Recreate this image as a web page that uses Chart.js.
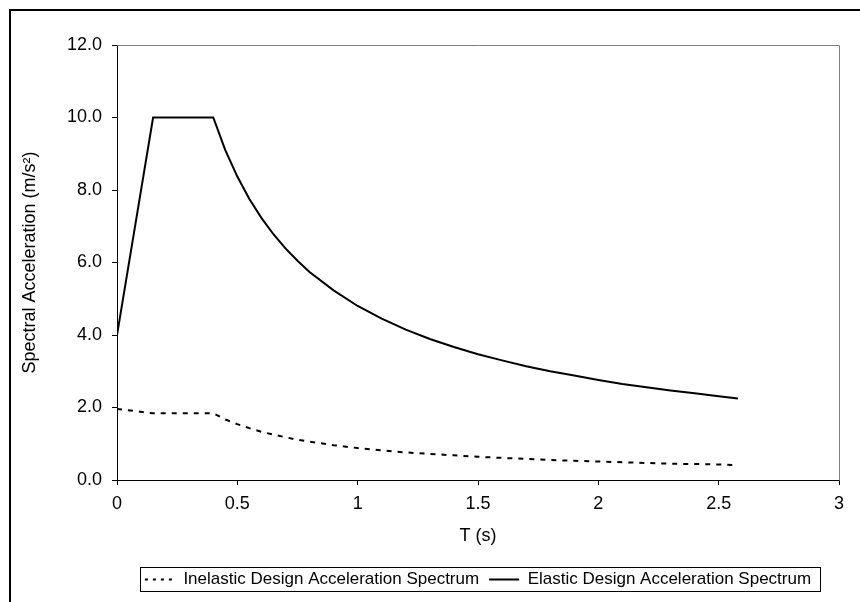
<!DOCTYPE html>
<html>
<head>
<meta charset="utf-8">
<script src="https://cdn.jsdelivr.net/npm/chart.js@4.4.1/dist/chart.umd.min.js"></script>
<style>
  html, body { margin: 0; padding: 0; background: #fff; }
  body { width: 860px; height: 602px; overflow: hidden; position: relative; }
  #frame { position: absolute; left: 9px; top: 9px; width: 900px; height: 700px; border: 2px solid #000; pointer-events: none; }
  #myChart { position: absolute; left: 0; top: 0; }
</style>
</head>
<body>
<canvas id="myChart" width="860" height="602"></canvas>
<div id="frame"></div>
<script>
// periods T (s)
var periods = [0, 0.15, 0.4, 0.45, 0.5, 0.55, 0.6, 0.65, 0.7, 0.75, 0.8, 0.9, 1.0, 1.1, 1.2, 1.3, 1.4, 1.5, 1.6, 1.7, 1.8, 1.9, 2.0, 2.1, 2.2, 2.3, 2.4, 2.5, 2.58];
// spectral acceleration (m/s2)
var elastic = [4.0, 10.0, 10.0, 9.10, 8.37, 7.75, 7.23, 6.78, 6.39, 6.05, 5.74, 5.23, 4.80, 4.45, 4.15, 3.89, 3.67, 3.47, 3.30, 3.14, 3.00, 2.88, 2.76, 2.65, 2.56, 2.47, 2.39, 2.31, 2.25];
var inelastic = [1.96, 1.84, 1.84, 1.67, 1.54, 1.43, 1.33, 1.25, 1.18, 1.11, 1.06, 0.96, 0.88, 0.82, 0.76, 0.72, 0.68, 0.64, 0.61, 0.58, 0.55, 0.53, 0.51, 0.49, 0.47, 0.45, 0.44, 0.43, 0.41];
var seriesNames = ['Inelastic Design Acceleration Spectrum', 'Elastic Design Acceleration Spectrum'];
var xTitle = 'T (s)';
var yTitle = 'Spectral Acceleration (m/s\u00B2)';

var font = '"Liberation Sans", Arial, sans-serif';

function toPoints(ys) {
    return periods.map(function(t, i) { return {x: t, y: ys[i]}; });
}

// gray plot border (top/right) and box around the legend
var boxPlugin = {
    id: 'boxes',
    afterDraw: function(chart) {
        var ctx = chart.ctx;
        var a = chart.chartArea;
        ctx.save();
        ctx.strokeStyle = '#808080';
        ctx.lineWidth = 1;
        ctx.beginPath();
        ctx.moveTo(Math.round(a.left) + 0.5, Math.round(a.top) + 0.5);
        ctx.lineTo(Math.round(a.right) + 0.5, Math.round(a.top) + 0.5);
        ctx.lineTo(Math.round(a.right) + 0.5, Math.round(a.bottom) + 0.5);
        ctx.stroke();

        var boxes = chart.legend.legendHitBoxes;
        if (boxes && boxes.length) {
            var l = Infinity, r = -Infinity, t = Infinity, b = -Infinity;
            boxes.forEach(function(h) {
                l = Math.min(l, h.left); r = Math.max(r, h.left + h.width);
                t = Math.min(t, h.top); b = Math.max(b, h.top + h.height);
            });
            ctx.strokeStyle = '#000';
            ctx.strokeRect(Math.round(l - 5) + 0.5, Math.round(t - 4) + 0.5, Math.round(r - l + 14), Math.round(b - t + 7));
        }
        ctx.restore();
    }
};

window.onload = function() {
    var ctx = document.getElementById('myChart').getContext('2d');
    new Chart(ctx, {
        type: 'line',
        data: {
            datasets: [{
                label: seriesNames[0],
                data: toPoints(inelastic),
                borderColor: '#000',
                borderWidth: 2,
                borderDash: [5, 6],
                pointRadius: 0,
                fill: false
            }, {
                label: seriesNames[1],
                data: toPoints(elastic),
                borderColor: '#000',
                borderWidth: 2,
                pointRadius: 0,
                fill: false
            }]
        },
        options: {
            responsive: false,
            animation: false,
            layout: { padding: { left: 0, top: 45, right: 21, bottom: 4 } },
            plugins: {
                tooltip: { enabled: false },
                legend: {
                    position: 'bottom',
                    fullSize: false,
                    labels: {
                        color: '#000',
                        font: { family: font, size: 17 },
                        usePointStyle: true,
                        pointStyle: 'line',
                        pointStyleWidth: 30,
                        padding: 10,
                        generateLabels: function(chart) {
                            var items = Chart.defaults.plugins.legend.labels.generateLabels(chart);
                            items.forEach(function(it) {
                                it.pointStyle = 'line';
                                it.lineWidth = 2;
                                it.lineDash = it.datasetIndex === 0 ? [3, 5] : [];
                            });
                            return items;
                        }
                    }
                }
            },
            scales: {
                x: {
                    type: 'linear',
                    min: 0,
                    max: 3,
                    afterFit: function(s) { s.height = 81; },
                    ticks: {
                        stepSize: 0.5,
                        color: '#000',
                        padding: 8,
                        maxRotation: 0,
                        font: { family: font, size: 18 },
                        callback: function(v) { return String(Math.round(v * 10) / 10); }
                    },
                    grid: { display: true, drawOnChartArea: false, drawTicks: true, tickLength: 5, color: '#000' },
                    border: { display: true, color: '#000' },
                    title: {
                        display: true,
                        text: xTitle,
                        color: '#000',
                        padding: { top: 14, bottom: 14 },
                        font: { family: font, size: 18 }
                    }
                },
                y: {
                    min: 0,
                    max: 12,
                    afterFit: function(s) { s.width = 117; },
                    ticks: {
                        stepSize: 2,
                        color: '#000',
                        padding: 10,
                        font: { family: font, size: 18 },
                        callback: function(v) { return v.toFixed(1); }
                    },
                    grid: { display: true, drawOnChartArea: false, drawTicks: true, tickLength: 5, color: '#000' },
                    border: { display: true, color: '#000' },
                    title: {
                        display: true,
                        text: yTitle,
                        color: '#000',
                        padding: { top: 19, bottom: 19 },
                        font: { family: font, size: 18 }
                    }
                }
            }
        },
        plugins: [boxPlugin]
    });
};
</script>
</body>
</html>
